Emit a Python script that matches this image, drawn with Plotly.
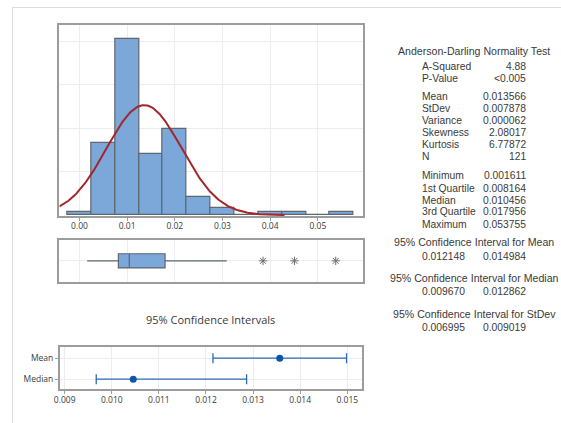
import numpy as np
import plotly.graph_objects as go

# histogram (bin centres, counts)
bin_centers = [0.000, 0.005, 0.010, 0.015, 0.020, 0.025, 0.030, 0.035, 0.040, 0.045, 0.050, 0.055]
bin_counts = [1, 20, 49, 17, 24, 5, 2, 0, 1, 1, 0, 1]
bin_width = 0.005

n_obs = 121
mean = 0.013566
stdev = 0.007878

# boxplot
q1 = 0.008164
median = 0.010456
q3 = 0.017956
whisker_low = 0.001611
whisker_high = 0.0309
outliers = [0.0385, 0.0451, 0.053755]

# confidence intervals
ci_names = ["Mean", "Median"]
ci_centers = [0.013566, 0.010456]
ci_lows = [0.012148, 0.009670]
ci_highs = [0.014984, 0.012862]

# summary table
test_labels = ["A-Squared", "P-Value"]
test_values = ["4.88", "<0.005"]
moment_labels = ["Mean", "StDev", "Variance", "Skewness", "Kurtosis", "N"]
moment_values = ["0.013566", "0.007878", "0.000062", "2.08017", "6.77872", "121"]
quant_labels = ["Minimum", "1st Quartile", "Median", "3rd Quartile", "Maximum"]
quant_values = ["0.001611", "0.008164", "0.010456", "0.017956", "0.053755"]
ci_titles = ["95% Confidence Interval for Mean",
             "95% Confidence Interval for Median",
             "95% Confidence Interval for StDev"]
ci_pairs = [("0.012148", "0.014984"), ("0.009670", "0.012862"), ("0.006995", "0.009019")]

W, H = 561, 423
FONT = "Open Sans"
TABLE_FONT = "Liberation Sans"
TXT = "#3a3a3a"
BLUE = "#7ba7d9"
EDGE = "#5e6670"
FRAME = "#9c9c9c"
GRID = "#ededed"


def px(x):
    return x / W


def py(y):
    return 1 - y / H


density = [c / (n_obs * bin_width) for c in bin_counts]
curve_x = np.linspace(-0.0042, 0.043, 300)
curve_y = np.exp(-0.5 * ((curve_x - mean) / stdev) ** 2) / (stdev * np.sqrt(2 * np.pi))

fig = go.Figure()

fig.add_trace(go.Bar(
    x=bin_centers, y=density, width=bin_width,
    marker=dict(color=BLUE, line=dict(color=EDGE, width=1.2)),
    xaxis="x", yaxis="y",
))
fig.add_trace(go.Scatter(
    x=curve_x, y=curve_y, mode="lines",
    line=dict(color="#a3262a", width=2), xaxis="x", yaxis="y",
))

fig.add_trace(go.Box(
    y=[0.5], q1=[q1], median=[median], q3=[q3],
    lowerfence=[whisker_low], upperfence=[whisker_high],
    orientation="h", width=0.34, whiskerwidth=0,
    fillcolor=BLUE, line=dict(color=EDGE, width=1.2),
    boxpoints=False, xaxis="x2", yaxis="y2",
))
fig.add_trace(go.Scatter(
    x=outliers, y=[0.5] * len(outliers), mode="markers",
    marker=dict(symbol="asterisk-open", size=7, color="#6f6f6f",
                line=dict(color="#6f6f6f", width=1)),
    xaxis="x2", yaxis="y2",
))

ci_y = [1, 0]
fig.add_trace(go.Scatter(
    x=ci_centers, y=ci_y, mode="markers",
    marker=dict(color="#0a57a8", size=7),
    error_x=dict(type="data", symmetric=False,
                 array=[h - c for h, c in zip(ci_highs, ci_centers)],
                 arrayminus=[c - l for c, l in zip(ci_centers, ci_lows)],
                 color="#2a6bb5", thickness=1.3, width=5),
    xaxis="x3", yaxis="y3",
))

tick_font = dict(family=FONT, size=8.5, color=TXT)
frame = dict(showline=True, mirror=True, linecolor=FRAME, linewidth=1.5,
             zeroline=False, gridcolor=GRID, gridwidth=1)

fig.update_layout(
    width=W, height=H,
    margin=dict(l=0, r=0, t=0, b=0),
    paper_bgcolor="white", plot_bgcolor="white",
    showlegend=False, bargap=0,
    font=dict(family=FONT, color=TXT),
    xaxis=dict(domain=[px(54), px(361)], range=[-0.0042, 0.0595],
               tickvals=[0, 0.01, 0.02, 0.03, 0.04, 0.05], tickformat=".2f",
               ticks="outside", ticklen=3, tickcolor=FRAME, tickfont=tick_font,
               ticklabelstandoff=-2, anchor="y", **frame),
    yaxis=dict(domain=[py(216), py(25)], range=[-0.4, 87.5], dtick=20,
               showticklabels=False, anchor="x", **frame),
    xaxis2=dict(domain=[px(54), px(361)], range=[-0.0042, 0.0595], dtick=0.01,
                showticklabels=False, anchor="y2", **frame),
    yaxis2=dict(domain=[py(281.7), py(240)], range=[0, 1], tickvals=[0.5],
                showticklabels=False, anchor="x2", **frame),
    xaxis3=dict(domain=[px(54.3), px(360)], range=[0.008895, 0.015315], dtick=0.001,
                tickformat=".3f", ticks="outside", ticklen=3, tickcolor=FRAME,
                tickfont=tick_font, ticklabelstandoff=-1, anchor="y3", **frame),
    yaxis3=dict(domain=[py(389.3), py(347.3)], range=[-0.48, 1.52],
                tickvals=ci_y, ticktext=ci_names, ticks="outside", ticklen=3,
                tickcolor=FRAME, tickfont=tick_font, anchor="x3", **frame),
)

# light outer border (top and left)
fig.add_shape(type="line", xref="paper", yref="paper",
              x0=px(6.5), x1=px(561), y0=py(7.5), y1=py(7.5),
              line=dict(color="#dcdcdc", width=1))
fig.add_shape(type="line", xref="paper", yref="paper",
              x0=px(6.5), x1=px(6.5), y0=py(7.5), y1=py(423),
              line=dict(color="#dcdcdc", width=1))

fig.add_annotation(x=px(206.7), y=py(329.3), xref="paper", yref="paper",
                   text="95% Confidence Intervals", showarrow=False,
                   font=dict(family=FONT, size=11, color=TXT))


def note(x, y, text, anchor, size=10.3):
    fig.add_annotation(x=px(x), y=py(y), xref="paper", yref="paper", text=text,
                       showarrow=False, xanchor=anchor, yanchor="middle",
                       font=dict(family=TABLE_FONT, size=size, color=TXT))


LX, RX, CX = 418, 528, 473.3
note(CX, 50.5, "Anderson-Darling Normality Test", "center", 10.6)
for i, (lab, val) in enumerate(zip(test_labels, test_values)):
    note(LX, 66.3 + 11.8 * i, lab, "left")
    note(RX, 66.3 + 11.8 * i, val, "right")
for i, (lab, val) in enumerate(zip(moment_labels, moment_values)):
    note(LX, 96.8 + 11.9 * i, lab, "left")
    note(RX, 96.8 + 11.9 * i, val, "right")
for i, (lab, val) in enumerate(zip(quant_labels, quant_values)):
    note(LX, 176 + 12 * i, lab, "left")
    note(RX, 176 + 12 * i, val, "right")
for i, (title, (lo, hi)) in enumerate(zip(ci_titles, ci_pairs)):
    note(CX, 241.5 + 36 * i, title, "center", 10.6)
    note(LX, 256 + 35.5 * i, lo, "left")
    note(RX, 256 + 35.5 * i, hi, "right")

# the page's default body margin would shift the figure
fig.write_html("out.html", config={"displayModeBar": False},
               post_script="document.body.style.margin='0';")
